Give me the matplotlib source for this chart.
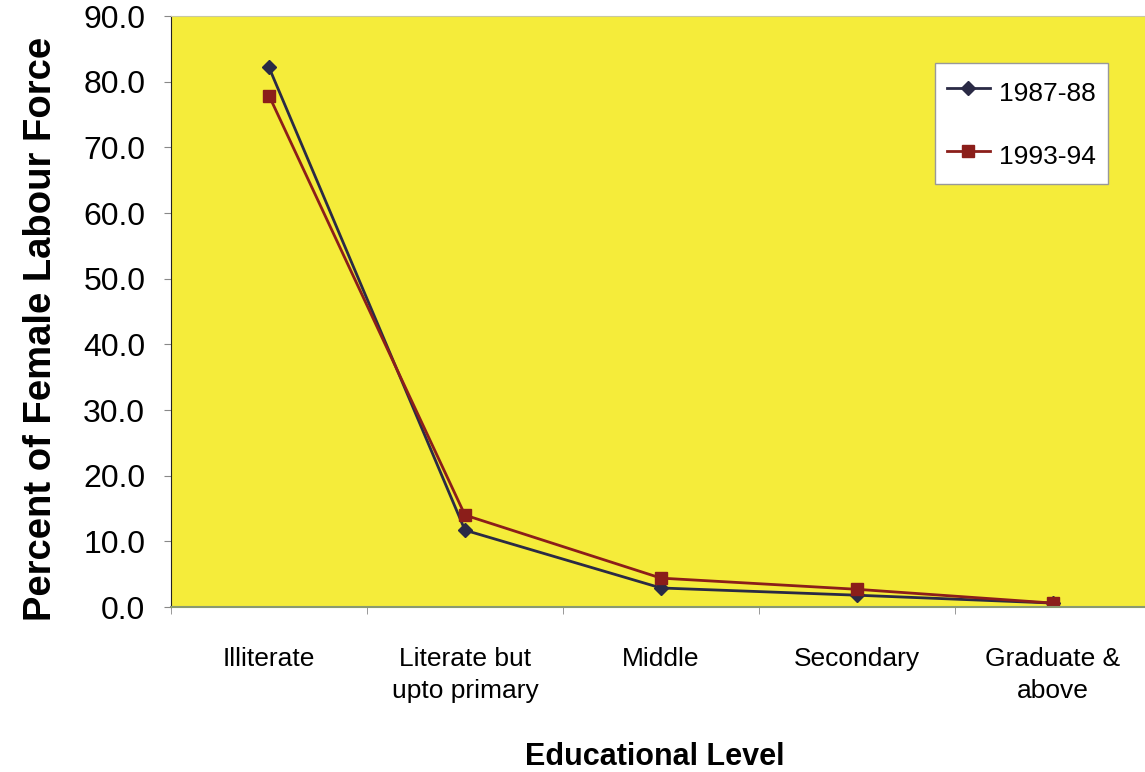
#!/usr/bin/python3
import matplotlib
matplotlib.use("Agg")
import matplotlib.pyplot as plt
import numpy as np

levels = ["Illiterate", "Literate but\nupto primary", "Middle", "Secondary", "Graduate &\nabove"]
y_1987 = [82.2, 11.7, 2.9, 1.8, 0.6]
y_1993 = [77.9, 14.0, 4.4, 2.7, 0.6]
yticks = [0, 10, 20, 30, 40, 50, 60, 70, 80, 90]

plt.rcParams['font.family'] = ['Liberation Sans', 'DejaVu Sans']

fig = plt.figure(figsize=(11.45, 7.72), dpi=100)
ax = fig.add_axes([0.1493, 0.2137, 0.856, 0.7655])
ax.set_facecolor('#f5ec3a')

x = np.arange(len(levels))
ax.plot(x, y_1987, color='#2a2a45', lw=2, marker='D', ms=7, label='1987-88')
ax.plot(x, y_1993, color='#8b1e1a', lw=2, marker='s', ms=9, label='1993-94')

ax.set_xlim(-0.5, len(levels) - 0.5)
ax.set_ylim(0, 90)
ax.set_yticks(yticks)
ax.set_yticklabels(['%.1f' % v for v in yticks], fontsize=23)
ax.set_xticks(x)
ax.set_xticklabels(levels, fontsize=19, linespacing=1.4)
ax.set_xticks(np.arange(-0.5, len(levels)), minor=True)
ax.tick_params(axis='x', which='major', length=0, pad=29)
ax.tick_params(axis='x', which='minor', length=5, color='#888888')
ax.tick_params(axis='y', length=5, color='#888888', pad=13.5)

ax.spines['left'].set_color('#222222')
ax.spines['bottom'].set_color('#8a9a70')
ax.spines['bottom'].set_linewidth(1.5)
ax.spines['top'].set_color('#c8c8a0')
ax.spines['right'].set_visible(False)

ax.set_ylabel('Percent of Female Labour Force', fontsize=27.5, fontweight='bold')
ax.yaxis.set_label_coords(-0.114, 0.47)
ax.set_xlabel('Educational Level', fontsize=22, fontweight='bold')
ax.xaxis.set_label_coords(0.494, -0.229)

leg = ax.legend(loc='upper left', bbox_to_anchor=(0.78, 0.92), fontsize=19,
                fancybox=False, framealpha=1, edgecolor='#999999',
                handlelength=1.6, handleheight=1.6, handletextpad=0.35,
                borderpad=0.45, borderaxespad=0, labelspacing=1.1)
leg.get_frame().set_facecolor('white')

fig.savefig('out.png', dpi=100)
